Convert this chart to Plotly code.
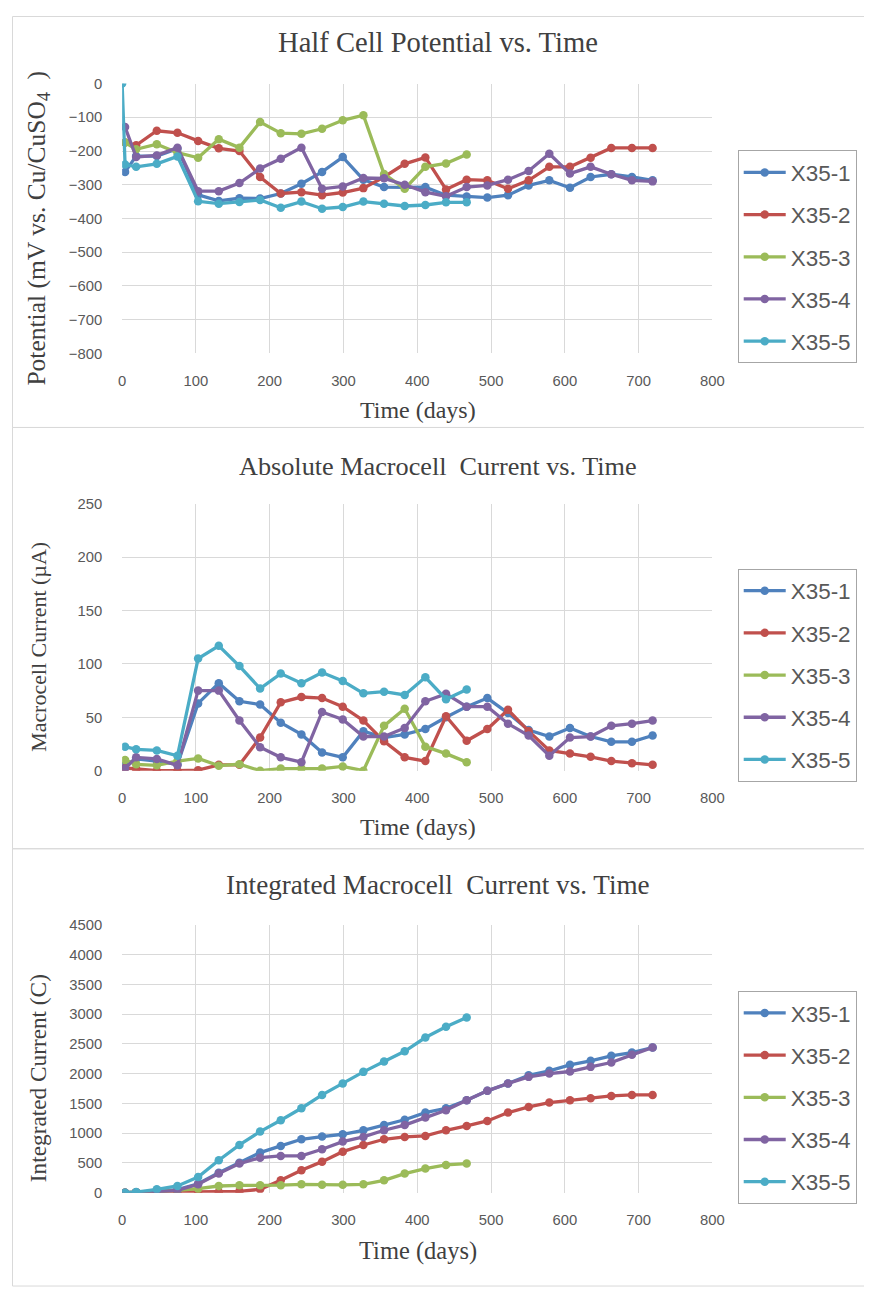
import plotly.graph_objects as go

# ---------------- data ----------------
SERIES = ["X35-1", "X35-2", "X35-3", "X35-4", "X35-5"]
COLORS = ["#4F81BD", "#C0504D", "#9BBB59", "#8064A2", "#4BACC6"]

DAYS = [4, 19, 47, 75, 103, 131, 159, 187, 215, 243, 271, 299, 327, 355,
        383, 411, 439, 467, 495, 523, 551, 579, 607, 635, 663, 691, 719]
DAYS_SHORT = DAYS[:18]
DAYS_POT5 = [0] + DAYS_SHORT

# Half cell potential (mV vs Cu/CuSO4)
POT_1 = [-262, -215, -215, -193, -330, -348, -340, -341, -326, -297, -262, -218, -285, -307,
         -308, -307, -331, -335, -338, -331, -302, -287, -309, -277, -269, -277, -287]
POT_2 = [-175, -183, -140, -146, -170, -192, -200, -277, -326, -322, -331, -323, -310, -277,
         -238, -219, -314, -285, -287, -312, -287, -247, -247, -220, -191, -191, -191]
POT_3 = [-175, -195, -180, -205, -220, -165, -190, -114, -147, -149, -134, -109, -94, -268,
         -312, -247, -237, -210]
POT_4 = [-129, -218, -213, -190, -319, -319, -295, -252, -223, -190, -312, -305, -280, -281,
         -300, -322, -334, -307, -302, -285, -259, -208, -267, -247, -269, -287, -290]
POT_5 = [0, -240, -247, -238, -216, -349, -356, -351, -345, -368, -350, -371, -366, -350, -356,
         -363, -360, -352, -352]

# Absolute macrocell current (uA)
CUR_1 = [5, 11, 9, 6, 63, 82, 65, 62, 45, 34, 17, 12.5, 37, 31,
         34, 39, 50, 60, 68, 54, 38, 32, 40, 32, 27, 27, 33]
CUR_2 = [2.5, 1.5, 0, 0, 0.5, 5.5, 5.5, 31, 64, 69, 68, 60, 47, 27.5,
         12.5, 9, 51, 28, 39, 57, 37, 19, 16, 13, 9, 7, 5.5]
CUR_3 = [10, 6, 5, 9, 11.5, 4.7, 6, 0, 2, 2, 2, 4, 0, 42, 58, 22.5, 16, 8]
CUR_4 = [2, 12.5, 11, 5, 75, 75, 47, 22, 12.5, 8, 55, 48, 32, 32,
         40, 65, 72, 60, 60, 44, 33, 14, 31, 32, 42, 44, 47]
CUR_5 = [22.5, 20, 19, 14, 105, 117, 98, 77, 91, 82, 92, 84, 72.5, 74, 71, 87.5, 67, 76]

# Integrated macrocell current (C)
INT_1 = [0, 5, 20, 50, 150, 336, 504, 673, 785, 897, 942, 981, 1048, 1138,
         1225, 1345, 1418, 1553, 1710, 1833, 1973, 2046, 2147, 2214, 2298, 2354, 2438]
INT_2 = [0, 2, 3, 3, 4, 10, 22, 56, 207, 376, 521, 689, 801, 897,
         936, 953, 1048, 1121, 1205, 1345, 1440, 1513, 1553, 1586, 1625, 1642, 1642]
INT_3 = [0, 8, 15, 40, 67, 112, 123, 123, 125, 140, 132, 132, 140, 207, 320, 404, 465, 488]
INT_4 = [0, 5, 15, 40, 140, 320, 488, 588, 617, 617, 729, 858, 936, 1048,
         1135, 1261, 1384, 1553, 1710, 1833, 1945, 2001, 2035, 2113, 2186, 2315, 2438]
INT_5 = [0, 10, 56, 112, 263, 544, 801, 1026, 1216, 1418, 1642, 1833, 2029, 2203,
         2375, 2606, 2786, 2943]

TITLES = ["Half Cell Potential vs. Time",
          "Absolute Macrocell\u00a0 Current vs. Time",
          "Integrated Macrocell\u00a0 Current vs. Time"]
YTITLES = ["Potential (mV vs. Cu/CuSO<sub>4</sub>\u00a0 )",
           "Macrocell Current (\u00b5A)",
           "Integrated Current (C)"]
XTITLE = "Time (days)"

# ---------------- figure ----------------
W, H = 872, 1294
# calibration of where figure pixels end up in the photographed page
AX, SX = 12.8, 0.9796
AY, SY = 15.8, 0.987
def fx(x): return (x - AX) / SX          # target page x -> figure x
def fy(y): return (y - AY) / SY          # target page y -> figure y
def px(x): return fx(x) / W
def py(y): return 1 - fy(y) / H
def fs(s): return s / SX                 # font size compensation

charts = [
    ([DAYS, DAYS, DAYS_SHORT, DAYS, DAYS_POT5], [POT_1, POT_2, POT_3, POT_4, POT_5]),
    ([DAYS, DAYS, DAYS_SHORT, DAYS, DAYS_SHORT], [CUR_1, CUR_2, CUR_3, CUR_4, CUR_5]),
    ([DAYS, DAYS, DAYS_SHORT, DAYS, DAYS_SHORT], [INT_1, INT_2, INT_3, INT_4, INT_5]),
]

fig = go.Figure()
legend_names = ["legend", "legend2", "legend3"]
for ci, (xs, ys) in enumerate(charts):
    ax = "" if ci == 0 else str(ci + 1)
    for si in range(5):
        fig.add_trace(go.Scatter(
            x=xs[si], y=ys[si], name=SERIES[si], mode="lines+markers",
            line=dict(color=COLORS[si], width=3.3),
            marker=dict(color=COLORS[si], size=8.5),
            xaxis="x" + ax, yaxis="y" + ax,
            legend=legend_names[ci], legendgroup=f"{ci}-{si}",
        ))

# panel geometry in target page pixels
plot_left, plot_right = 122.7, 711.7
panels = [  # (panel top, panel bottom, plot top, plot bottom, title y, xtitle y, ytitle y, legend top)
    (10, 427, 83.3, 353.0, 42, 410, 228, 150),
    (427, 848, 503.3, 770.0, 466, 826, 646, 568),
    (848, 1285, 924.0, 1191.7, 884, 1250, 1077, 990),
]
title_sizes = [28, 25.7, 26.6]
xtitle_sizes = [23.5, 23.5, 24]
ytitle_sizes = [25, 21.5, 22.8]
yranges = [([-800, 0], 100), ([0, 250], 50), ([0, 4500], 500)]

layout = dict(
    width=W, height=H, margin=dict(l=0, r=0, t=0, b=0),
    paper_bgcolor="white", plot_bgcolor="white",
    font=dict(family="Liberation Sans", color="#595959", size=fs(15)),
    shapes=[], annotations=[],
)
axis_font = dict(family="Liberation Sans", size=fs(14.5), color="#595959")
for ci, (ptop, pbot, atop, abot, ty, xty, yty, ltop) in enumerate(panels):
    ax = "" if ci == 0 else str(ci + 1)
    layout["xaxis" + ax] = dict(
        domain=[px(plot_left), px(plot_right)], range=[0, 800], dtick=100,
        anchor="y" + ax, showgrid=True, gridcolor="#D9D9D9", gridwidth=1,
        zeroline=False, showline=False, ticks="", tickfont=axis_font,
        ticklabelstandoff=17, fixedrange=True,
    )
    rng, dt = yranges[ci]
    layout["yaxis" + ax] = dict(
        domain=[py(abot), py(atop)], range=rng, dtick=dt,
        anchor="x" + ax, showgrid=True, gridcolor="#D9D9D9", gridwidth=1,
        zeroline=False, showline=False, ticks="", tickfont=axis_font,
        ticklabelstandoff=19, fixedrange=True,
    )
    layout["shapes"].append(dict(
        type="rect", xref="paper", yref="paper",
        x0=max(px(8), 0.5 / W), x1=px(866), y0=py(pbot), y1=min(py(ptop), 1 - 0.5 / H),
        line=dict(color="#D9D9D9", width=1), fillcolor="rgba(0,0,0,0)", layer="below",
    ))
    layout["annotations"].append(dict(
        text=TITLES[ci], x=px(438), y=py(ty), xref="paper", yref="paper",
        showarrow=False, xanchor="center", yanchor="middle",
        font=dict(family="Liberation Serif", size=fs(title_sizes[ci]), color="#404040"),
    ))
    layout["annotations"].append(dict(
        text=XTITLE, x=px(418), y=py(xty), xref="paper", yref="paper",
        showarrow=False, xanchor="center", yanchor="middle",
        font=dict(family="Liberation Serif", size=fs(xtitle_sizes[ci]), color="#404040"),
    ))
    layout["annotations"].append(dict(
        text=YTITLES[ci], x=px(39), y=py(yty), xref="paper", yref="paper",
        showarrow=False, xanchor="center", yanchor="middle", textangle=-90,
        font=dict(family="Liberation Serif", size=fs(ytitle_sizes[ci]), color="#404040"),
    ))
    layout[legend_names[ci]] = dict(
        x=px(737), y=py(ltop), xanchor="left", yanchor="top",
        xref="paper", yref="paper",
        bordercolor="#A6A6A6", borderwidth=1, bgcolor="white",
        font=dict(family="Liberation Sans", size=fs(22), color="#595959"),
        tracegroupgap=10, itemwidth=42, itemclick=False, itemdoubleclick=False,
    )

fig.update_layout(**layout)
fig.write_html("out.html")
